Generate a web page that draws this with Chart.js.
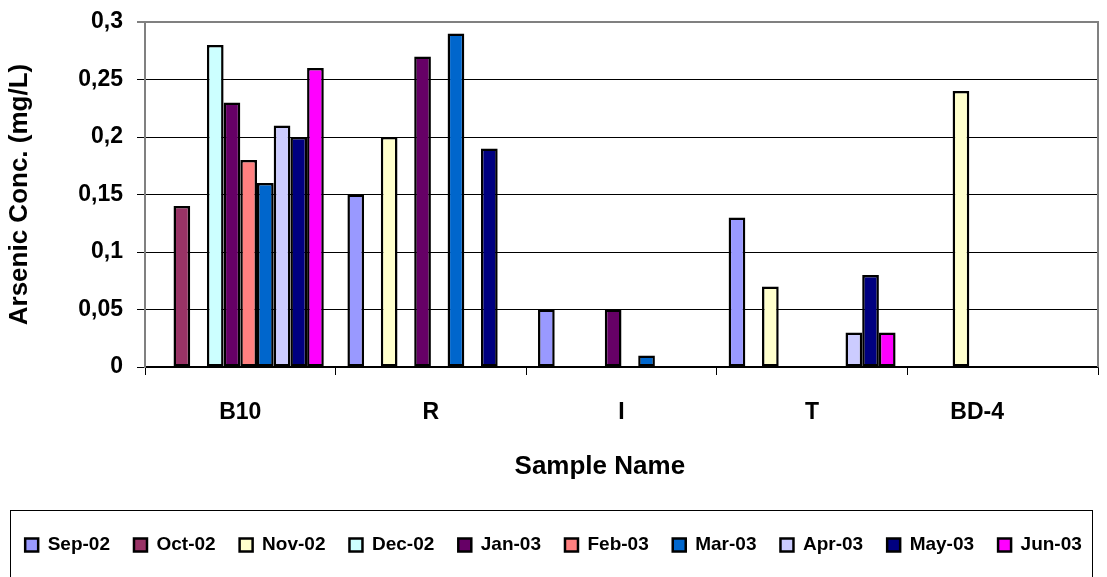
<!DOCTYPE html>
<html>
<head>
<meta charset="utf-8">
<script src="https://cdn.jsdelivr.net/npm/chart.js@4/dist/chart.umd.min.js"></script>
<style>
  html, body { margin: 0; padding: 0; background: #fff; }
  #wrap { width: 1107px; height: 577px; position: relative; }
</style>
</head>
<body>
<div id="wrap"><canvas id="chart"></canvas></div>
<script>
// --- data ---
const sampleNames = ['B10', 'R', 'I', 'T', 'BD-4'];
const months = ['Sep-02', 'Oct-02', 'Nov-02', 'Dec-02', 'Jan-03', 'Feb-03', 'Mar-03', 'Apr-03', 'May-03', 'Jun-03'];

const sep02 = [null, 0.15, 0.05, 0.13, null];
const oct02 = [0.14, null, null, null, null];
const nov02 = [null, 0.20, null, 0.07, 0.24];
const dec02 = [0.28, null, null, null, null];
const jan03 = [0.23, 0.27, 0.05, null, null];
const feb03 = [0.18, null, null, null, null];
const mar03 = [0.16, 0.29, 0.01, null, null];
const apr03 = [0.21, null, null, 0.03, null];
const may03 = [0.20, 0.19, null, 0.08, null];
const jun03 = [0.26, null, null, 0.03, null];

const seriesValues = [sep02, oct02, nov02, dec02, jan03, feb03, mar03, apr03, may03, jun03];
const seriesColors = ['#9999FF', '#993366', '#FFFFCC', '#CCFFFF', '#660066',
                      '#FF8080', '#0066CC', '#CCCCFF', '#000080', '#FF00FF'];

const yTickLabels = ['0', '0,05', '0,1', '0,15', '0,2', '0,25', '0,3'];

const FONT = "'Liberation Sans', Arial, sans-serif";

// plot frame (gray top/right border) and the boxed legend
const framePlugin = {
    id: 'frame',
    afterDatasetsDraw(chart) {
        const { ctx, chartArea } = chart;
        ctx.save();
        ctx.strokeStyle = '#808080';
        ctx.lineWidth = 2;
        ctx.beginPath();
        ctx.moveTo(chartArea.left, chartArea.top);
        ctx.lineTo(chartArea.right, chartArea.top);
        ctx.lineTo(chartArea.right, chartArea.bottom);
        ctx.stroke();
        ctx.restore();
    },
    afterDraw(chart) {
        const { ctx } = chart;
        ctx.save();
        ctx.strokeStyle = '#000';
        ctx.lineWidth = 1;
        ctx.strokeRect(10.5, 510.5, 1082, 100);
        ctx.restore();
    }
};

const datasets = months.map((m, i) => ({
    label: m,
    data: seriesValues[i],
    backgroundColor: seriesColors[i],
    borderColor: '#000',
    borderWidth: 2.5,
    borderSkipped: false,
    categoryPercentage: 0.876,
    barPercentage: 1.0
}));

new Chart(document.getElementById('chart'), {
    type: 'bar',
    data: { labels: sampleNames, datasets },
    options: {
        responsive: true,
        maintainAspectRatio: false,
        animation: false,
        layout: { padding: { left: 0, right: 0, top: 22, bottom: 12.5 } },
        plugins: {
            legend: {
                position: 'bottom',
                labels: {
                    boxWidth: 13,
                    boxHeight: 13,
                    padding: 24,
                    color: '#000',
                    font: { family: FONT, size: 19, weight: 'bold' }
                }
            },
            tooltip: { enabled: false }
        },
        scales: {
            x: {
                afterFit: scale => { scale.height = 144.5; },
                grid: {
                    offset: true,
                    drawOnChartArea: false,
                    drawTicks: true,
                    tickLength: 8,
                    color: '#000'
                },
                border: { color: '#000', width: 1.5 },
                ticks: {
                    padding: 24,
                    color: '#000',
                    font: { family: FONT, size: 23, weight: 'bold' },
                    // last label sits left of its category centre in the original
                    callback: (v, i) => (i === sampleNames.length - 1 ? sampleNames[i] + '        ' : sampleNames[i])
                },
                title: {
                    display: true,
                    text: 'Sample Name      ',
                    color: '#000',
                    padding: { top: 4, bottom: 29 },
                    font: { family: FONT, size: 26, weight: 'bold' }
                }
            },
            y: {
                min: 0,
                max: 0.3,
                afterFit: scale => {
                    scale.width = 145;
                    scale.paddingTop = 0;
                    scale.paddingBottom = 0;
                },
                grid: {
                    color: c => (c.index === yTickLabels.length - 1 ? '#808080' : '#000'),
                    lineWidth: c => (c.index === yTickLabels.length - 1 ? 2 : 1),
                    tickLength: 8
                },
                border: { color: '#808080', width: 2 },
                ticks: {
                    stepSize: 0.05,
                    padding: 14,
                    color: '#000',
                    font: { family: FONT, size: 23, weight: 'bold' },
                    callback: (v, i) => yTickLabels[i]
                },
                title: {
                    display: true,
                    text: 'Arsenic Conc. (mg/L)',
                    color: '#000',
                    padding: { top: 4, bottom: 0 },
                    font: { family: FONT, size: 26, weight: 'bold' }
                }
            },
            // empty axis on the right only reserves the small right margin
            yRight: {
                position: 'right',
                afterFit: scale => { scale.width = 9; },
                grid: { display: false },
                border: { display: false },
                ticks: { display: false }
            }
        }
    },
    plugins: [framePlugin]
});
</script>
</body>
</html>
